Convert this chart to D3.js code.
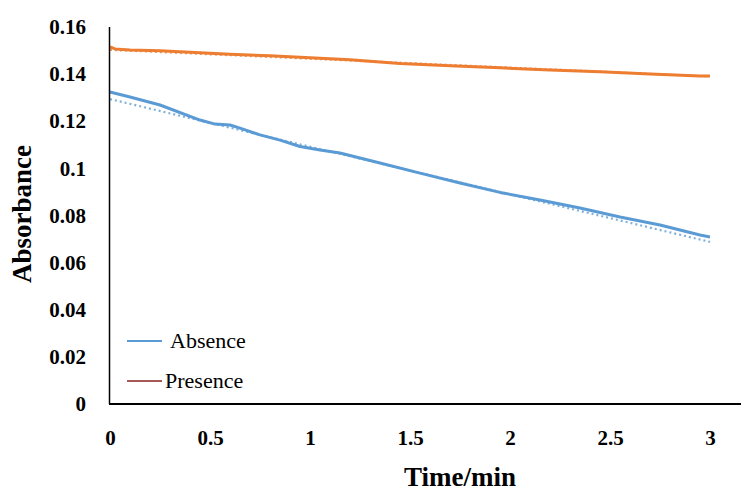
<!DOCTYPE html>
<html><head><meta charset="utf-8">
<script src="https://cdn.jsdelivr.net/npm/d3@7"></script>
<style>html,body{margin:0;padding:0;background:#fff;}</style>
</head><body>
<svg id="c" width="741" height="491"></svg>
<script>
const absenceTime = [0,0.1,0.25,0.45,0.525,0.6,0.65,0.75,0.85,0.95,1.05,1.15,1.35,1.55,1.75,1.95,2.15,2.35,2.55,2.75,2.95,3.0];
const absenceVals = [0.1324,0.1303,0.1269,0.1205,0.1188,0.1184,0.1171,0.1142,0.1120,0.1093,0.1078,0.1065,0.1023,0.0980,0.0938,0.0898,0.0866,0.0832,0.0794,0.0760,0.0717,0.0709];
const presenceTime = [0,0.025,0.1,0.25,0.4,0.6,0.8,1.0,1.2,1.45,1.7,1.95,2.2,2.45,2.7,2.95,3.0];
const presenceVals = [0.1516,0.1507,0.1502,0.1499,0.1493,0.1484,0.1478,0.1470,0.1461,0.1445,0.1436,0.1427,0.1417,0.1410,0.1401,0.1392,0.1392];
const trendTime = [0,3];
const absenceTrend = [0.1294,0.0688];
const presenceTrend = [0.1503,0.1390];
const xTicks = [0,0.5,1,1.5,2,2.5,3];
const xTickLabels = ["0","0.5","1","1.5","2","2.5","3"];
const yTicks = [0,0.02,0.04,0.06,0.08,0.1,0.12,0.14,0.16];
const yTickLabels = ["0","0.02","0.04","0.06","0.08","0.1","0.12","0.14","0.16"];
const seriesNames = ["Absence","Presence"];

const svg = d3.select("#c");
const x = d3.scaleLinear().domain([0,3]).range([110,710]);
const y = d3.scaleLinear().domain([0,0.16]).range([404,27]);
const font = "'Liberation Serif','Times New Roman',serif";

const line = d3.line().x(d=>x(d[0])).y(d=>y(d[1]));
const zip = (a,b)=>a.map((v,i)=>[v,b[i]]);

// trend lines (dotted)
svg.append("path").datum(zip(trendTime,absenceTrend)).attr("d",line)
  .attr("fill","none").attr("stroke","#7fb0dc").attr("stroke-width",2.2).attr("stroke-dasharray","2,3");
svg.append("path").datum(zip(trendTime,presenceTrend)).attr("d",line)
  .attr("fill","none").attr("stroke","#e99a66").attr("stroke-width",2.2).attr("stroke-dasharray","2,3");

// data lines
svg.append("path").datum(zip(absenceTime,absenceVals)).attr("d",line)
  .attr("fill","none").attr("stroke","#5b9bd5").attr("stroke-width",3).attr("stroke-linejoin","round");
svg.append("path").datum(zip(presenceTime,presenceVals)).attr("d",line)
  .attr("fill","none").attr("stroke","#ed7d31").attr("stroke-width",3).attr("stroke-linejoin","round");

// axes
const xAxis = d3.axisBottom(x).tickValues(xTicks).tickFormat((d,i)=>xTickLabels[i]).tickSize(0).tickPadding(26);
const gx = svg.append("g").attr("transform","translate(0,404)").call(xAxis);
gx.select(".domain").remove();
gx.selectAll("text").attr("font-family",font).attr("font-weight","bold").attr("font-size",21).attr("fill","#000");
svg.append("line").attr("x1",109).attr("x2",741).attr("y1",404).attr("y2",404).attr("stroke","#000").attr("stroke-width",2);

const yAxis = d3.axisLeft(y).tickValues(yTicks).tickFormat((d,i)=>yTickLabels[i]).tickSize(0).tickPadding(23);
const gy = svg.append("g").attr("transform","translate(109,0)").call(yAxis);
gy.select(".domain").remove();
gy.selectAll("text").attr("font-family",font).attr("font-weight","bold").attr("font-size",21).attr("fill","#000");
svg.append("line").attr("x1",109.5).attr("x2",109.5).attr("y1",27).attr("y2",404).attr("stroke","#000").attr("stroke-width",1.5);

// titles
svg.append("text").attr("x",460).attr("y",486).attr("text-anchor","middle")
  .attr("font-family",font).attr("font-weight","bold").attr("font-size",27).text("Time/min");
svg.append("text").attr("transform","translate(31,214) rotate(-90)").attr("text-anchor","middle")
  .attr("font-family",font).attr("font-weight","bold").attr("font-size",27).text("Absorbance");

// legend
const legendColors = ["#5b9bd5","#a65a55"];
const legendY = [341,381];
const lg = svg.append("g");
seriesNames.forEach((n,i)=>{
  lg.append("line").attr("x1",127).attr("x2",162).attr("y1",legendY[i]).attr("y2",legendY[i])
    .attr("stroke",legendColors[i]).attr("stroke-width",2);
  lg.append("text").attr("x",i===0?170:165).attr("y",legendY[i]+7)
    .attr("font-family",font).attr("font-size",22).attr("fill","#000").text(n);
});
</script>
</body></html>
